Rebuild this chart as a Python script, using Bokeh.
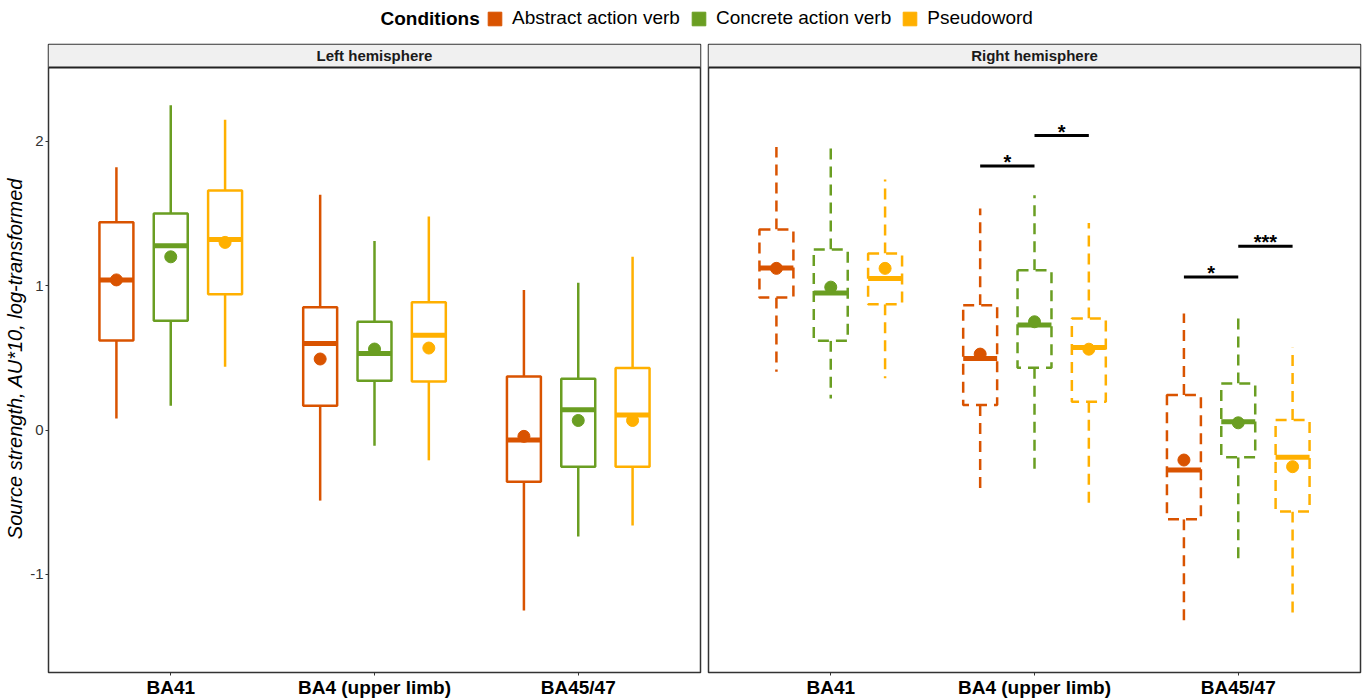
from bokeh.plotting import figure
from bokeh.models import (Range1d, FixedTicker, ColumnDataSource, Legend, LegendItem, Label)
from bokeh.layouts import column, row
from bokeh.embed import file_html
from bokeh.resources import INLINE
from bokeh.core.properties import value

FONT = "Liberation Sans"

regions = ["BA41", "BA4 (upper limb)", "BA45/47"]
conditions = ["Abstract action verb", "Concrete action verb", "Pseudoword"]
colors = ["#D95300", "#6A9E22", "#FFB000"]
y_ticks = [-1, 0, 1, 2]
y_tick_labels = ["-1", "0", "1", "2"]

# values listed region by region: (BA41: abstract, concrete, pseudo), (BA4 ...), (BA45/47 ...)
left_upper = [1.82, 2.25, 2.15, 1.63, 1.31, 1.48, 0.97, 1.02, 1.20]
left_q3 = [1.44, 1.50, 1.66, 0.85, 0.75, 0.885, 0.37, 0.356, 0.43]
left_median = [1.04, 1.276, 1.32, 0.60, 0.53, 0.657, -0.069, 0.141, 0.104]
left_q1 = [0.62, 0.757, 0.94, 0.168, 0.341, 0.336, -0.358, -0.255, -0.255]
left_lower = [0.08, 0.168, 0.438, -0.489, -0.109, -0.21, -1.25, -0.737, -0.662]
left_mean = [1.04, 1.20, 1.30, 0.492, 0.561, 0.568, -0.044, 0.066, 0.066]

right_upper = [1.96, 1.984, 1.735, 1.534, 1.626, 1.435, 0.807, 0.819, 0.570]
right_q3 = [1.389, 1.25, 1.223, 0.865, 1.107, 0.773, 0.242, 0.323, 0.069]
right_median = [1.123, 0.95, 1.05, 0.496, 0.727, 0.572, -0.277, 0.058, -0.189]
right_q1 = [0.918, 0.618, 0.872, 0.173, 0.431, 0.196, -0.618, -0.189, -0.565]
right_lower = [0.404, 0.219, 0.358, -0.404, -0.311, -0.519, -1.361, -0.923, -1.297]
right_mean = [1.12, 0.99, 1.12, 0.526, 0.75, 0.56, -0.208, 0.05, -0.254]

# significance brackets (right hemisphere)
sig_region = ["BA4 (upper limb)", "BA4 (upper limb)", "BA45/47", "BA45/47"]
sig_from = ["Abstract action verb", "Concrete action verb", "Abstract action verb", "Concrete action verb"]
sig_to = ["Concrete action verb", "Pseudoword", "Concrete action verb", "Pseudoword"]
sig_y = [1.83, 2.04, 1.061, 1.273]
sig_label = ["*", "*", "*", "***"]

DODGE = 0.8 / 3
BOX_W = 0.5 / 3
Y_START, Y_BODY_END = -1.68, 2.512
STRIP_H = 0.159


def xpos(region, cond):
    return regions.index(region) + 1 + (conditions.index(cond) - 1) * DODGE


def make_panel(title, stats, dash, width, left_border, right_border, show_y):
    upper, q3, med, q1, lower, mean = stats
    p = figure(width=width, height=660, output_backend="svg", toolbar_location=None,
               x_range=Range1d(0.4, 3.6), y_range=Range1d(Y_START, Y_BODY_END + STRIP_H),
               min_border_left=left_border, min_border_right=right_border,
               min_border_top=4, min_border_bottom=0, tools="")
    p.xgrid.visible = False
    p.ygrid.visible = False
    p.outline_line_color = "#333333"
    p.outline_line_width = 1.5
    p.background_fill_color = "white"

    for ci, cond in enumerate(conditions):
        idx = [r * 3 + ci for r in range(3)]
        xs = [xpos(reg, cond) for reg in regions]
        src = ColumnDataSource(dict(
            x=xs, xl=[x - BOX_W / 2 for x in xs], xr=[x + BOX_W / 2 for x in xs],
            upper=[upper[i] for i in idx], q3=[q3[i] for i in idx], med=[med[i] for i in idx],
            q1=[q1[i] for i in idx], lower=[lower[i] for i in idx], mean=[mean[i] for i in idx]))
        c = colors[ci]
        p.segment(x0="x", y0="q3", x1="x", y1="upper", source=src, line_color=c,
                  line_width=2.5, line_dash=dash)
        p.segment(x0="x", y0="q1", x1="x", y1="lower", source=src, line_color=c,
                  line_width=2.5, line_dash=dash)
        p.vbar(x="x", width=BOX_W, top="q3", bottom="q1", source=src, fill_color="white",
               line_color=c, line_width=2.5, line_dash=dash)
        p.segment(x0="xl", y0="med", x1="xr", y1="med", source=src, line_color=c,
                  line_width=5, line_cap="butt")
        p.scatter(x="x", y="mean", source=src, size=12, fill_color=c, line_color=c)

    # facet strip
    p.quad(left=[0.4], right=[3.6], bottom=[Y_BODY_END], top=[Y_BODY_END + STRIP_H],
           fill_color="#F0F0F0", line_color=None)
    p.segment(x0=[0.4], y0=[Y_BODY_END], x1=[3.6], y1=[Y_BODY_END], line_color="#222222",
              line_width=2)
    p.text(x=[2.0], y=[Y_BODY_END + STRIP_H / 2], text=[title], text_align="center",
           text_baseline="middle", text_font=value(FONT), text_font_size="15px",
           text_font_style="bold", text_color="#1A1A1A")

    p.xaxis.ticker = FixedTicker(ticks=[1, 2, 3])
    p.xaxis.major_label_overrides = {i + 1: r for i, r in enumerate(regions)}
    p.xaxis.major_label_text_font = FONT
    p.xaxis.major_label_text_font_size = "19px"
    p.xaxis.major_label_text_font_style = "bold"
    p.xaxis.major_label_text_color = "black"
    p.xaxis.axis_line_color = None
    p.xaxis.major_tick_line_color = "#333333"
    p.xaxis.major_tick_out = 3
    p.xaxis.major_tick_in = 0
    p.xaxis.minor_tick_line_color = None
    p.xaxis.major_label_standoff = 1

    if show_y:
        p.yaxis.ticker = FixedTicker(ticks=y_ticks)
        p.yaxis.major_label_overrides = dict(zip(y_ticks, y_tick_labels))
        p.yaxis.major_label_text_font = FONT
        p.yaxis.major_label_text_font_size = "15px"
        p.yaxis.major_label_text_color = "#333333"
        p.yaxis.axis_line_color = None
        p.yaxis.major_tick_line_color = "#333333"
        p.yaxis.major_tick_out = 3
        p.yaxis.major_tick_in = 0
        p.yaxis.minor_tick_line_color = None
        p.yaxis.major_label_standoff = 2
        p.yaxis.axis_label = "Source strength, AU*10, log-transformed"
        p.yaxis.axis_label_text_font = FONT
        p.yaxis.axis_label_text_font_size = "20px"
        p.yaxis.axis_label_text_font_style = "italic"
        p.yaxis.axis_label_text_color = "black"
        p.yaxis.axis_label_standoff = 1
    else:
        p.yaxis.visible = False
    return p


left = make_panel("Left hemisphere",
                  (left_upper, left_q3, left_median, left_q1, left_lower, left_mean),
                  "solid", 704, 48, 4, True)
right = make_panel("Right hemisphere",
                   (right_upper, right_q3, right_median, right_q1, right_lower, right_mean),
                   "11 7", 663, 4, 7, False)

# significance brackets
sx0 = [xpos(r, a) for r, a in zip(sig_region, sig_from)]
sx1 = [xpos(r, b) for r, b in zip(sig_region, sig_to)]
ssrc = ColumnDataSource(dict(x0=sx0, x1=sx1, y=sig_y, xm=[(a + b) / 2 for a, b in zip(sx0, sx1)],
                             label=sig_label))
right.segment(x0="x0", y0="y", x1="x1", y1="y", source=ssrc, line_color="black", line_width=3)
right.text(x="xm", y="y", text="label", source=ssrc, text_align="center",
           text_baseline="middle", text_font=value(FONT), text_font_size="20px",
           text_font_style="bold", text_color="black", y_offset=-4)

# legend strip (its dummy glyphs sit outside the visible range; only the legend shows them)
lp = figure(width=1367, height=40, output_backend="svg", toolbar_location=None,
            x_range=Range1d(0, 1367), y_range=Range1d(0, 40), min_border=0, tools="")
lp.axis.visible = False
lp.grid.visible = False
lp.outline_line_color = None
items = []
for cond, c in zip(conditions, colors):
    r = lp.quad(left=[-1000], right=[-999], bottom=[-1000], top=[-999],
                fill_color=c, line_color=c, line_width=1)
    items.append(LegendItem(label=cond, renderers=[r]))
lp.add_layout(Label(x=380, y=22, text="Conditions", text_baseline="middle",
                    text_font=FONT, text_font_size="19px", text_font_style="bold",
                    text_color="black"))
legend = Legend(items=items, orientation="horizontal", location=(486, 11),
                glyph_width=17, glyph_height=17, label_standoff=9, spacing=10, padding=0,
                margin=0, border_line_color=None, background_fill_alpha=0,
                label_text_font=FONT, label_text_font_size="19px", label_text_color="black")
lp.add_layout(legend, "center")

layout = column(lp, row(left, right))
open("out.html", "w").write(file_html(layout, INLINE))
